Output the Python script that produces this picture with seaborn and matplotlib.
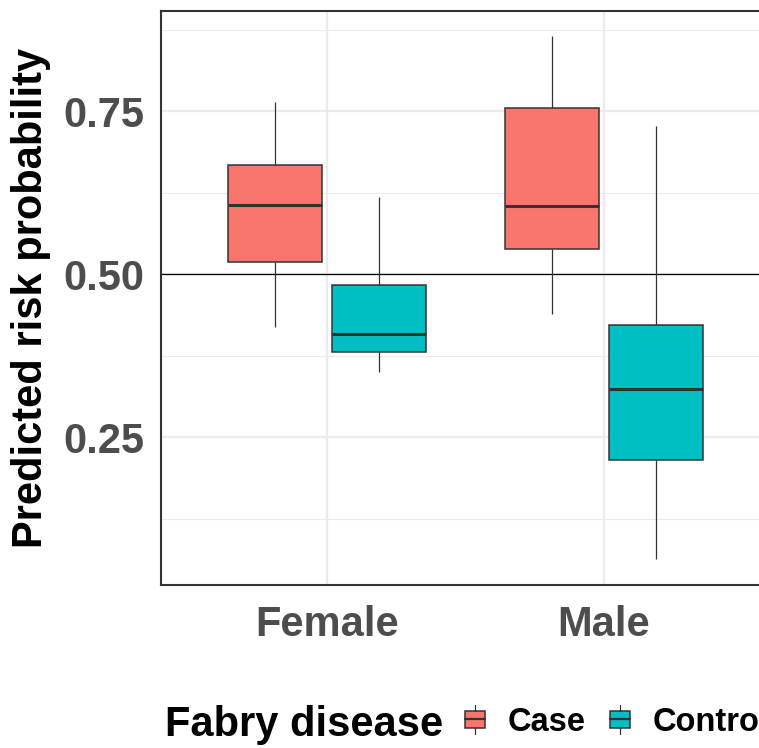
import numpy as np
import pandas as pd
import matplotlib
matplotlib.use("Agg")
import matplotlib.pyplot as plt
import seaborn as sns
from matplotlib.patches import Rectangle, Patch
from matplotlib.lines import Line2D
from matplotlib.legend_handler import HandlerBase

# ---- data (five-number summaries) ----
sexes = ["Female", "Male"]
groups = ["Case", "Control"]
female_case = [0.419, 0.518, 0.606, 0.667, 0.765]
female_control = [0.350, 0.380, 0.408, 0.483, 0.618]
male_case = [0.439, 0.538, 0.604, 0.755, 0.865]
male_control = [0.063, 0.215, 0.324, 0.422, 0.727]
colors = ["#F8766D", "#00BFC4"]
yticks = [0.25, 0.50, 0.75]
ytick_labels = ["0.25", "0.50", "0.75"]

rows = []
for sex, grp, vals in [("Female", "Case", female_case), ("Female", "Control", female_control),
                       ("Male", "Case", male_case), ("Male", "Control", male_control)]:
    for v in vals:
        rows.append({"sex": sex, "group": grp, "value": v})
df = pd.DataFrame(rows)

sns.set_style("white")
plt.rcParams["font.family"] = ["Liberation Sans", "DejaVu Sans"]
plt.rcParams["font.weight"] = "bold"

W, H = 759, 748
fig = plt.figure(figsize=(W / 100, H / 100), dpi=100)
unit = 277
left_px = 327 - 0.6 * unit
ax = fig.add_axes([left_px / W, (H - 585) / H, 2.2 * unit / W, (585 - 11) / H])

edge = "#333333"
sns.boxplot(data=df, x="sex", y="value", hue="group", order=sexes, hue_order=groups,
            palette=colors, saturation=1, width=0.75, gap=0.1, whis=1.5,
            linecolor=edge, linewidth=1.0,
            boxprops={"linewidth": 1.1},
            whiskerprops={"linewidth": 0.9},
            capprops={"linewidth": 0},
            medianprops={"linewidth": 2.2},
            legend=False, ax=ax)

ax.axhline(0.5, color="black", linewidth=0.9, zorder=1.5)

ax.set_xlim(-0.6, 1.6)
ax.set_ylim(0.023, 0.904)
ax.set_yticks(yticks)
ax.set_yticklabels(ytick_labels)
ax.set_yticks([0.125, 0.375, 0.625, 0.875], minor=True)
ax.set_xticks([0, 1])
ax.set_xticklabels(sexes)
ax.grid(True, which="major", color="#EBEBEB", linewidth=1.6)
ax.grid(True, which="minor", axis="y", color="#EBEBEB", linewidth=0.8)
ax.set_axisbelow(True)
for s in ax.spines.values():
    s.set_color(edge)
    s.set_linewidth(1.5)
ax.tick_params(axis="both", which="major", length=6.5, width=1.5, color=edge,
               labelcolor="#4D4D4D", labelsize=30)
ax.tick_params(axis="y", which="major", pad=5.5)
ax.tick_params(axis="x", which="major", pad=8)
ax.tick_params(axis="both", which="minor", length=0)
for lab in ax.get_xticklabels() + ax.get_yticklabels():
    lab.set_fontweight("bold")
ax.set_xlabel("")
ax.set_ylabel("Predicted risk probability", fontsize=30, fontweight="bold",
              color="black", labelpad=8.5)


class BoxHandler(HandlerBase):
    def create_artists(self, legend, orig_handle, xdescent, ydescent, width, height,
                       fontsize, trans):
        fc = orig_handle.get_facecolor()
        cx = -xdescent + width / 2
        cy = -ydescent + height / 2
        bw = width * 0.8
        bh = height * 0.65
        rect = Rectangle((cx - bw / 2, cy - bh / 2), bw, bh, facecolor=fc,
                         edgecolor=edge, linewidth=1.1, transform=trans)
        top = Line2D([cx, cx], [cy + bh / 2, -ydescent + height * 1.05], color=edge,
                     linewidth=0.9, transform=trans)
        bot = Line2D([cx, cx], [-ydescent - height * 0.05, cy - bh / 2], color=edge,
                     linewidth=0.9, transform=trans)
        med = Line2D([cx - bw / 2, cx + bw / 2], [cy, cy], color=edge, linewidth=1.6,
                     transform=trans)
        return [rect, top, bot, med]


handles = [Patch(facecolor=c, label=g) for c, g in zip(colors, groups)]
fig.text(165 / W, 1 - 725 / H, "Fabry disease", fontsize=30, fontweight="bold",
         color="black", ha="left", va="center")
leg = fig.legend(handles=handles, labels=groups, loc="center left",
                 bbox_to_anchor=(463 / W, 1 - 722 / H), ncol=2, frameon=False,
                 fontsize=23.5, handler_map={Patch: BoxHandler()},
                 handlelength=0.75, handleheight=0.85, handletextpad=0.62,
                 columnspacing=0.68, borderpad=0, borderaxespad=0)
for t in leg.get_texts():
    t.set_fontweight("bold")
    t.set_color("black")

fig.savefig("out.png", dpi=100)
